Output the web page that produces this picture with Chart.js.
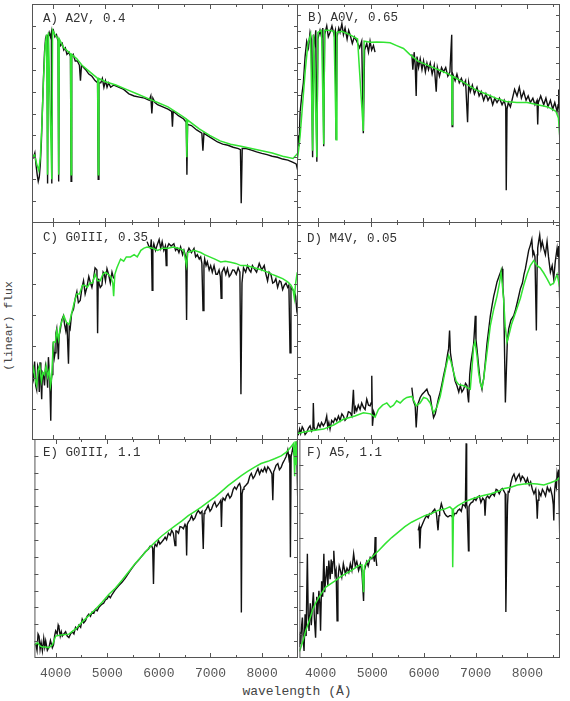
<!DOCTYPE html>
<html>
<head>
<meta charset="utf-8">
<script src="https://cdn.jsdelivr.net/npm/chart.js@4"></script>
<style>
  body { margin:0; background:#fff; }
  #fig { position:relative; width:570px; height:701px; overflow:hidden; background:#fff;
         font-family:'Liberation Mono', 'DejaVu Sans Mono', monospace; color:#444; }
  #fig canvas { position:absolute; }
  .tag { position:absolute; font-size:12.5px; color:#333; white-space:pre; line-height:15px; }
  #xlab { position:absolute; left:197px; width:200px; top:684px; text-align:center; font-size:13px; line-height:15px; }
  #ylab { position:absolute; left:-51px; top:319px; width:120px; height:14px; line-height:14px;
          text-align:center; font-size:11.5px; transform:rotate(-90deg); }
</style>
</head>
<body>
<div id="fig">
  <div id="xlab">wavelength (Å)</div>
  <div id="ylab">(linear) flux</div>
</div>
<script>
/* spectra: [wavelength (Å), flux in % of panel height]; null = no data */

const xTicks = [4000, 5000, 6000, 7000, 8000];

const obsA = [[3600,31],[3620,30],[3645,32],[3670,26],[3690,22],[3710,19],[3730,21],[3750,27],[3770,37],[3790,52],[3810,66],[3830,78],[3850,84],[3870,82],[3880,86],[3889,18],[3898,85],[3920,87],[3945,85],[3962,87],[3970,18],[3978,87],[4000,88],[4030,85],[4060,86],[4090,83],[4102,19],[4114,83],[4140,81],[4170,82],[4200,79],[4230,80],[4260,77],[4300,78],[4328,76],[4340,19],[4352,76],[4380,77],[4420,74],[4460,74],[4500,72],[4520,65],[4540,72],[4580,71],[4620,70],[4680,68],[4740,67],[4800,65],[4848,64],[4861,20],[4874,64],[4910,64],[4940,66],[4970,62],[5000,65],[5030,62],[5060,64],[5100,62],[5160,63],[5250,62],[5350,61],[5450,59],[5550,58],[5650,57.5],[5750,57],[5840,56],[5870,58],[5890,50],[5910,57],[5950,55],[6000,54],[6100,53],[6200,52],[6270,51],[6285,44],[6300,51],[6400,49],[6500,47.5],[6550,46],[6563,22],[6576,45],[6650,44.5],[6750,42.5],[6850,41],[6870,33],[6890,41],[6950,40],[7050,38.5],[7150,37],[7250,36],[7350,35.5],[7450,34.6],[7550,34],[7590,33.5],[7605,9],[7625,34],[7700,34],[7800,33.3],[7900,32.5],[8000,31.8],[8100,31.2],[8200,30.5],[8300,30],[8400,29.2],[8500,28.7],[8600,27.7],[8660,27],[8690,24]];
const modelA = [[3590,30],[3640,31],[3680,27],[3720,24],[3750,30],[3780,45],[3810,65],[3840,80],[3870,86],[3889,22],[3905,87],[3970,20],[3985,88],[4030,86],[4090,84],[4102,22],[4115,84],[4200,80],[4300,78],[4330,77],[4340,22],[4350,77],[4450,75],[4550,72],[4700,69],[4850,66],[4861,22],[4872,66],[5000,64.5],[5200,63],[5400,61],[5600,59],[5800,57],[6000,55],[6200,53],[6400,50],[6550,47.5],[6563,30],[6576,47],[6800,43],[7000,40],[7200,37.5],[7400,36],[7600,35],[7800,34],[8000,33],[8200,32],[8400,30.5],[8600,29.5],[8695,32]];

const obsB = [[3590,28],[3610,40],[3630,35],[3648,50],[3680,58],[3712,64],[3745,76],[3776,83],[3810,80],[3840,87],[3865,84],[3889,30],[3903,86],[3930,82],[3950,88],[3970,28],[3990,84],[4031,88],[4060,85],[4085,89],[4102,35],[4120,86],[4160,90],[4190,85],[4223,87],[4260,90],[4300,86],[4325,88],[4340,38],[4358,85],[4390,89],[4415,87],[4450,91],[4480,86],[4511,89],[4550,84],[4580,88],[4607,86],[4650,82],[4690,85],[4735,83],[4790,80],[4830,83],[4861,41],[4885,79],[4927,82],[4960,78],[4990,83],[5020,79],[5055,81],[5085,78],[5090,null],[5785,null],[5791,77],[5810,70],[5835,78],[5855,72],[5874,58],[5890,76],[5920,71],[5951,75],[5985,70],[6015,74],[6050,69],[6080,73],[6110,70],[6143,73],[6180,68],[6220,72],[6258,60],[6280,71],[6320,67],[6360,71],[6399,69],[6440,71],[6480,67],[6520,69],[6555,86],[6563,44],[6575,68],[6620,65],[6655,68],[6700,64],[6740,66],[6783,63],[6820,65],[6859,46],[6880,64],[6911,60],[6950,63],[6990,59],[7039,62],[7080,58],[7120,60],[7167,56],[7210,59],[7250,56],[7295,58],[7340,54],[7380,57],[7423,55],[7470,57],[7520,54],[7560,56],[7590,53],[7600,15],[7615,52],[7640,55],[7679,53],[7720,57],[7760,61],[7807,58],[7850,62],[7890,57],[7935,60],[7980,56],[8020,58],[8062,55],[8110,57],[8150,54],[8190,56],[8203,45],[8215,55],[8260,58],[8318,54],[8360,57],[8400,53],[8446,56],[8490,52],[8530,55],[8574,51],[8595,54],[8606,61],[8615,50],[8625,38]];
const modelB = [[3590,28],[3620,33],[3650,40],[3700,55],[3750,70],[3800,82],[3850,86],[3889,33],[3910,86],[3970,30],[3990,87],[4060,88],[4102,36],[4120,88],[4200,88],[4300,87.5],[4340,38],[4355,87],[4450,87.5],[4600,86],[4750,84],[4861,42],[4875,83],[5000,82.5],[5119,82.7],[5250,82.5],[5375,82.3],[5500,81],[5631,79.7],[5750,77],[5900,74],[6100,72],[6300,70],[6500,68],[6555,67],[6563,45],[6572,67],[6800,64],[7000,61],[7200,59],[7400,57],[7600,55.5],[7800,55],[8000,55],[8200,54],[8400,53],[8550,51],[8600,48],[8625,40]];

const obsC = [[3600,30],[3616,28],[3640,36],[3660,25],[3680,23],[3700,34],[3712,33],[3730,22],[3744,35.6],[3760,28],[3776,18.7],[3790,31],[3808,30],[3830,25],[3850,34],[3873,31],[3890,24],[3905,38],[3925,30],[3937,21.8],[3950,8.8],[3962,28],[3975,30],[3990,42],[4001,45],[4020,38],[4033,40],[4050,49],[4065,51],[4080,45],[4097,37],[4110,48],[4130,50],[4160,55],[4194,57],[4215,53],[4239,50],[4260,54],[4290,35],[4305,52],[4322,51],[4350,58],[4386,60],[4420,65],[4451,68],[4480,63],[4515,64],[4550,70],[4579,73],[4610,67],[4643,70],[4680,75],[4708,72.5],[4740,70],[4772,74],[4800,79],[4836,78],[4849,49],[4861,74],[4874,72],[4900,70],[4932,71],[4955,77],[4977,76],[5000,73],[5029,78.6],[5060,76],[5093,72],[5125,77],[5157,74],[5165,null],[5790,null],[5799,91],[5830,89],[5864,88],[5880,92],[5896,68.7],[5910,88],[5928,90],[5960,87],[5992,89.4],[6030,92],[6060,88],[6088,91],[6120,87],[6150,89],[6166,80],[6180,88],[6217,90],[6260,89],[6313,90],[6345,87],[6377,88],[6410,86],[6442,88.6],[6480,85],[6506,87],[6540,84],[6557,55],[6570,86],[6602,88],[6650,86],[6699,87.9],[6730,84],[6763,85],[6800,83],[6827,84],[6850,81],[6872,59.4],[6890,80],[6904,83],[6930,80],[6955,81.7],[6990,78],[7019,80],[7050,77],[7084,80],[7120,76],[7148,76],[7180,78],[7205,75],[7220,65],[7235,77],[7276,79],[7310,76],[7341,78.6],[7375,75],[7405,76],[7440,78],[7469,77.9],[7510,76],[7546,79],[7580,77],[7600,21],[7620,72],[7649,79],[7690,77],[7726,80],[7760,78],[7790,77],[7820,80],[7855,78.6],[7900,77],[7951,81],[8000,78],[8047,80],[8080,76],[8111,73],[8140,77],[8175,76],[8210,72],[8240,72.5],[8270,74],[8304,70],[8340,73],[8368,72.5],[8400,69],[8432,71],[8465,72],[8497,70],[8520,71],[8542,40],[8560,70],[8593,69],[8625,68],[8650,66],[8670,60],[8690,63],[8695,62]];
const modelC = [[3590,30],[3620,33],[3650,28],[3680,25],[3710,32],[3740,34],[3770,27],[3800,31],[3830,30],[3860,34],[3890,29],[3920,32],[3945,25],[3965,28],[3990,40],[4001,45],[4040,45],[4065,50],[4100,46],[4130,52],[4200,57],[4250,54],[4300,53],[4350,58],[4400,63],[4450,67],[4500,67],[4560,71],[4600,71],[4650,70],[4700,72],[4750,72],[4800,76],[4850,73],[4900,73],[4950,76],[5000,77],[5050,76],[5100,75],[5140,72],[5157,66],[5180,76],[5220,79],[5290,83],[5350,82],[5400,84],[5480,84],[5550,85],[5610,84],[5680,87],[5740,88],[5800,88.5],[5900,88],[6000,87],[6100,88],[6200,88],[6300,88.5],[6400,88],[6500,87],[6557,80],[6580,86],[6700,87],[6827,86],[6900,85],[7000,84],[7100,83],[7212,81.7],[7300,82],[7400,81.5],[7500,81],[7600,80],[7700,80],[7855,79],[8000,78],[8111,77],[8200,76],[8300,75],[8400,74],[8497,72.5],[8560,71],[8600,69],[8625,65],[8650,72],[8675,76],[8695,75]];

const obsD = [[3600,3],[3616,2.6],[3640,5],[3660,3],[3690,6],[3712,5],[3745,2.5],[3776,3.5],[3810,5.5],[3840,6.5],[3870,4],[3895,5],[3903,17],[3916,6],[3940,4.5],[3967,5],[4000,7.5],[4031,6],[4060,8],[4095,6.5],[4130,8],[4159,11],[4179,6],[4200,8],[4223,5],[4255,9],[4287,8],[4320,10],[4351,8.8],[4385,11],[4415,9],[4450,12],[4479,11],[4510,9],[4543,10],[4575,13],[4607,12.6],[4640,11],[4671,23],[4690,12],[4710,15],[4735,13.4],[4765,16],[4799,14],[4830,17],[4863,15],[4895,14],[4927,18.7],[4960,16],[4991,15.7],[5010,17],[5023,29.5],[5036,6.5],[5060,13],[5087,11],[5100,null],[5780,null],[5791,24],[5820,18],[5855,15.7],[5874,5.7],[5900,16],[5930,18],[5951,19.5],[5990,21],[6030,22],[6079,23.3],[6110,21],[6143,20],[6175,15],[6207,10.3],[6240,12],[6271,15.7],[6300,19],[6335,22],[6370,26],[6399,29.5],[6440,34],[6480,40],[6495,41.8],[6514,50.2],[6530,40],[6560,35],[6591,31],[6620,27],[6655,24.9],[6690,22],[6720,25],[6750,22],[6783,23.3],[6820,26],[6847,25],[6865,20],[6879,17.2],[6900,30],[6920,35],[6943,38.7],[6975,44],[6990,50],[7007,57],[7020,46],[7039,41.8],[7070,34],[7100,27],[7135,23.3],[7150,26],[7167,28],[7200,36],[7230,44],[7260,50],[7295,57],[7330,62],[7360,66],[7390,69],[7423,72.5],[7460,75],[7490,77],[7519,78.6],[7535,70],[7551,64.8],[7583,17.2],[7600,30],[7620,45],[7647,51],[7690,55],[7743,57],[7780,60],[7820,64],[7871,69.4],[7910,72],[7940,76],[7967,78.6],[8000,83],[8030,87],[8062,89.4],[8090,92],[8110,85],[8126,86.3],[8150,84],[8177,50.2],[8195,85],[8203,88],[8220,91],[8241,94],[8265,88],[8290,91],[8318,87.9],[8350,85],[8382,91],[8410,84],[8446,77],[8480,80],[8510,74],[8540,82],[8574,87.9],[8590,84],[8606,89],[8615,75],[8625,63]];
const modelD = [[3590,3],[3800,4],[4100,5],[4300,7],[4479,9.5],[4700,11],[4863,12.5],[5000,12],[5087,10.5],[5150,14],[5230,16],[5311,17],[5380,15],[5440,16],[5500,18],[5567,17],[5630,18.5],[5695,19.5],[5791,20],[5874,15.7],[5950,17],[6015,19.5],[6080,19],[6143,17],[6207,12.5],[6270,15],[6335,20],[6400,28],[6450,34],[6495,38.7],[6540,36],[6591,31],[6640,27],[6687,25.5],[6783,24.9],[6850,24],[6911,23.3],[6950,35],[6975,43],[7000,45],[7039,38.7],[7070,31],[7103,26],[7135,24],[7167,28],[7230,40],[7295,52.5],[7360,60],[7423,66],[7470,72],[7500,77],[7530,70],[7551,64],[7580,52],[7615,45],[7650,48],[7700,53],[7743,56],[7800,60],[7871,65],[7935,71],[7999,76],[8062,80],[8126,82.3],[8190,80],[8250,79],[8318,76.6],[8380,74],[8446,71],[8510,72],[8574,76],[8600,73],[8625,70]];

const obsE = [[3600,6],[3616,6.3],[3640,3.5],[3660,11],[3680,10],[3700,4],[3720,7],[3744,3.2],[3770,9],[3790,5],[3808,7.8],[3840,3.5],[3873,5],[3900,8],[3937,4.7],[3960,6],[3980,10],[4001,12.4],[4030,11],[4050,15],[4065,14],[4090,10],[4110,12],[4130,10],[4160,11],[4194,12],[4225,10],[4258,9.3],[4290,11],[4322,12],[4355,11],[4386,14],[4420,13],[4451,15],[4485,14],[4515,17.7],[4545,16],[4579,17],[4610,19],[4643,20],[4675,19],[4708,21],[4740,20.5],[4772,22.3],[4805,21.5],[4836,23],[4870,24],[4900,24.6],[4930,25],[4964,26.5],[5000,27],[5029,28.4],[5060,27.5],[5093,29],[5150,31],[5220,33],[5286,34.6],[5350,36.5],[5420,39],[5480,41],[5542,43],[5600,44.5],[5670,46.5],[5740,48.5],[5799,49.8],[5830,51],[5864,51],[5880,50],[5896,33.8],[5910,50],[5928,52],[5960,51],[5992,53.7],[6020,52],[6056,53],[6090,54],[6121,55.2],[6150,54],[6185,57],[6220,56],[6249,58.3],[6280,57],[6313,51.4],[6330,58],[6345,58],[6380,57],[6410,60],[6442,59.8],[6475,59],[6506,61],[6525,60],[6538,46.8],[6550,61],[6570,62],[6600,63],[6635,65],[6665,63],[6699,64],[6730,66],[6763,67.4],[6800,66],[6835,67],[6860,49.8],[6875,66],[6891,67],[6920,68],[6955,69.7],[6990,67],[7019,68],[7050,70],[7084,71.3],[7115,69],[7148,70],[7175,71],[7199,72],[7212,59.8],[7225,71],[7244,73],[7280,72],[7310,74],[7341,75],[7375,73],[7405,74],[7440,77],[7469,78.1],[7500,77],[7540,79],[7565,79.7],[7585,78],[7598,20.8],[7612,75],[7630,77],[7649,78],[7690,79],[7726,80],[7760,83],[7791,84.3],[7825,82],[7855,83],[7890,85],[7919,86.5],[7950,84],[7985,86],[8015,85],[8050,87],[8080,85],[8111,87.3],[8150,86],[8190,84],[8207,72],[8222,85],[8240,86],[8270,88],[8304,88.8],[8335,86],[8368,87],[8400,89],[8432,90.4],[8465,92],[8497,95],[8520,91],[8535,93],[8548,46],[8562,92],[8593,95.7],[8620,93],[8640,97],[8657,98],[8675,90],[8689,73.5],[8700,99],[8709,99.5]];
const modelE = [[3590,6],[3650,7],[3700,5.5],[3740,5],[3800,5],[3870,4.7],[3940,6],[4001,10],[4100,10.5],[4258,10.9],[4400,13.5],[4515,16.5],[4650,19.5],[4772,22.3],[4900,25.5],[5029,29],[5160,32],[5286,35.5],[5420,39.5],[5542,43.2],[5670,46.5],[5799,50],[5930,53],[6056,55.7],[6180,58],[6313,60.3],[6440,62.5],[6570,65],[6700,67],[6827,69],[6950,71.2],[7084,73.5],[7210,76],[7341,78.7],[7470,81],[7598,83.3],[7720,85.2],[7855,87.2],[7980,88.8],[8111,89.8],[8240,91],[8368,92.3],[8470,94],[8560,96.5],[8610,98],[8630,83],[8645,99],[8665,88],[8680,99],[8695,90]];

const obsF = [[3590,5],[3605,12],[3616,6.3],[3630,14],[3648,18.5],[3665,8],[3680,3.2],[3700,20],[3720,10],[3744,47.6],[3760,20],[3776,12.4],[3800,25],[3820,15],[3840,23],[3860,30],[3880,18],[3903,9.3],[3925,28],[3945,20],[3967,30.7],[3985,25],[3999,12.4],[4020,35],[4040,28],[4063,47.6],[4080,30],[4095,35.3],[4120,42],[4140,33],[4159,44.5],[4185,36],[4205,45],[4223,38.4],[4240,44],[4255,49],[4280,38],[4300,40],[4319,17],[4335,36],[4360,42],[4383,40],[4410,37],[4440,43],[4479,38.4],[4510,41],[4545,39],[4575,43],[4605,40],[4639,47.6],[4670,42],[4700,44],[4735,40],[4770,43],[4800,39],[4831,26],[4845,40],[4863,41.4],[4890,44],[4920,42],[4960,46],[4991,45.3],[5020,47],[5040,44],[5055,55.2],[5070,46],[5087,42],[5100,null],[5880,null],[5887,58.3],[5905,60],[5919,50],[5935,59],[5951,60],[5985,62],[6015,63.6],[6050,65],[6080,64],[6110,66],[6143,65.9],[6175,67],[6207,68],[6240,66],[6271,58.3],[6290,65],[6303,67],[6335,70.5],[6365,68],[6399,66],[6430,65],[6463,64.4],[6495,65],[6527,65],[6560,64],[6591,66],[6625,66],[6655,67.4],[6690,68],[6720,67],[6750,70],[6783,69.7],[6800,69],[6815,98],[6825,70],[6834,69],[6860,49],[6870,69],[6885,70],[6915,71],[6943,71.3],[6975,73],[7005,72],[7039,73.5],[7070,74],[7100,71],[7135,73],[7167,72],[7180,65],[7199,73],[7230,74],[7260,73],[7295,74.3],[7330,75],[7360,74],[7395,77],[7423,76.6],[7455,75],[7490,77],[7519,77.4],[7550,76],[7570,75],[7583,21],[7600,50],[7615,70],[7628,76],[7647,75.8],[7680,80],[7711,82.7],[7740,84],[7775,81],[7807,82.7],[7840,84],[7870,81],[7900,83],[7935,82],[7970,80],[8000,82],[8035,79],[8062,80.4],[8095,77],[8126,75],[8160,77],[8180,70],[8190,63.6],[8205,72],[8222,76],[8260,74],[8290,77],[8318,75.8],[8350,74],[8385,78],[8420,76],[8446,77.4],[8480,74],[8500,70],[8510,62.8],[8525,76],[8542,80],[8560,78],[8574,84.3],[8590,82],[8606,86],[8615,70],[8625,55]];
const modelF = [[3590,3],[3616,4.7],[3660,8],[3712,12.4],[3780,17],[3840,21.6],[3900,25],[3967,27.7],[4030,30],[4095,32.3],[4200,34],[4287,35.3],[4380,37],[4479,38.4],[4600,40],[4735,42.2],[4800,42.5],[4831,30],[4850,42],[4900,44],[4991,46],[5120,49],[5247,52.1],[5375,55],[5503,57.5],[5630,60],[5759,62],[5887,63.5],[6015,65],[6143,66],[6271,67.4],[6400,68],[6500,69],[6545,68],[6555,41.4],[6570,68],[6650,69.5],[6783,71.3],[6911,72.5],[7039,73.5],[7167,74.3],[7295,75],[7423,76],[7551,77.4],[7680,78],[7807,79],[7935,79.5],[8062,79.7],[8190,79.5],[8318,79],[8446,80],[8574,81.2],[8625,82.7]];

const panels = [
  { tag: 'A) A2V, 0.4',    obs: obsA, model: modelA, left: 32,  top: 4,   w: 266, h: 219, xMax: 8695, step: 10,   tagPos: [43, 12] },
  { tag: 'B) A0V, 0.65',   obs: obsB, model: modelB, left: 297, top: 4,   w: 263, h: 219, xMax: 8630, step: 7.3,  tagPos: [308, 11] },
  { tag: 'C) G0III, 0.35', obs: obsC, model: modelC, left: 32,  top: 222, w: 266, h: 218, xMax: 8695, step: 14.3, tagPos: [43, 231] },
  { tag: 'D) M4V, 0.05',   obs: obsD, model: modelD, left: 297, top: 222, w: 263, h: 218, xMax: 8630, step: 7.6,  tagPos: [307, 232] },
  { tag: 'E) G0III, 1.1',  obs: obsE, model: modelE, left: 32,  top: 439, w: 266, h: 219, xMax: 8695, step: 7.7,  tagPos: [43, 446], bottom: true },
  { tag: 'F) A5, 1.1',     obs: obsF, model: modelF, left: 297, top: 439, w: 263, h: 219, xMax: 8630, step: 11,   tagPos: [307, 446], bottom: true }
];

// frame + inward tick marks on all four sides
const frame = {
  id: 'frame',
  afterDatasetsDraw(chart, args, opts) {
    const { ctx, chartArea: a, scales: { x, y } } = chart;
    ctx.save();
    ctx.strokeStyle = '#555';
    ctx.lineWidth = 1;
    ctx.strokeRect(a.left + 0.5, a.top + 0.5, a.right - a.left - 1, a.bottom - a.top - 1);
    ctx.beginPath();
    for (let v = 4000; v <= 8500; v += 500) {
      const px = Math.round(x.getPixelForValue(v)) + 0.5;
      const len = v % 1000 ? 3 : 5;
      ctx.moveTo(px, a.bottom); ctx.lineTo(px, a.bottom - len);
      ctx.moveTo(px, a.top); ctx.lineTo(px, a.top + len);
    }
    for (let v = opts.step; v < 99; v += opts.step) {
      const py = Math.round(y.getPixelForValue(v)) + 0.5;
      ctx.moveTo(a.left, py); ctx.lineTo(a.left + 4, py);
      ctx.moveTo(a.right, py); ctx.lineTo(a.right - 4, py);
    }
    ctx.stroke();
    ctx.restore();
  }
};

const fig = document.getElementById('fig');
const toXY = arr => arr.map(([x, y]) => ({ x, y }));

panels.forEach(p => {
  const cv = document.createElement('canvas');
  const extra = p.bottom ? 26 : 0;
  cv.width = p.w; cv.height = p.h + extra;
  cv.style.left = p.left + 'px'; cv.style.top = p.top + 'px';
  cv.style.width = p.w + 'px'; cv.style.height = (p.h + extra) + 'px';
  fig.appendChild(cv);

  const tag = document.createElement('div');
  tag.className = 'tag';
  tag.textContent = p.tag;
  tag.style.left = p.tagPos[0] + 'px';
  tag.style.top = p.tagPos[1] + 'px';
  fig.appendChild(tag);

  const xScale = {
    type: 'linear', min: 3590, max: p.xMax,
    display: !!p.bottom,
    afterBuildTicks: s => { s.ticks = xTicks.map(v => ({ value: v })); },
    grid: { display: false, drawTicks: false },
    border: { display: false },
    ticks: {
      font: { family: 'Liberation Mono', size: 13 }, color: '#555',
      padding: 8, maxRotation: 0, autoSkip: false,
      callback: v => String(v)
    }
  };
  if (p.bottom) xScale.afterFit = s => { s.height = extra; };

  new Chart(cv.getContext('2d'), {
    type: 'line',
    data: {
      datasets: [
        { data: toXY(p.model), borderColor: 'rgb(50,228,50)', borderWidth: 1.5, pointRadius: 0, tension: 0, spanGaps: false },
        { data: toXY(p.obs), borderColor: '#111', borderWidth: 1.4, pointRadius: 0, tension: 0, spanGaps: false }
      ]
    },
    options: {
      responsive: false,
      animation: false,
      events: [],
      layout: { padding: 0 },
      plugins: { legend: { display: false }, tooltip: { enabled: false }, frame: { step: p.step } },
      scales: {
        x: xScale,
        y: { min: 0, max: 100, display: false }
      }
    },
    plugins: [frame]
  });
});
</script>
</body>
</html>
